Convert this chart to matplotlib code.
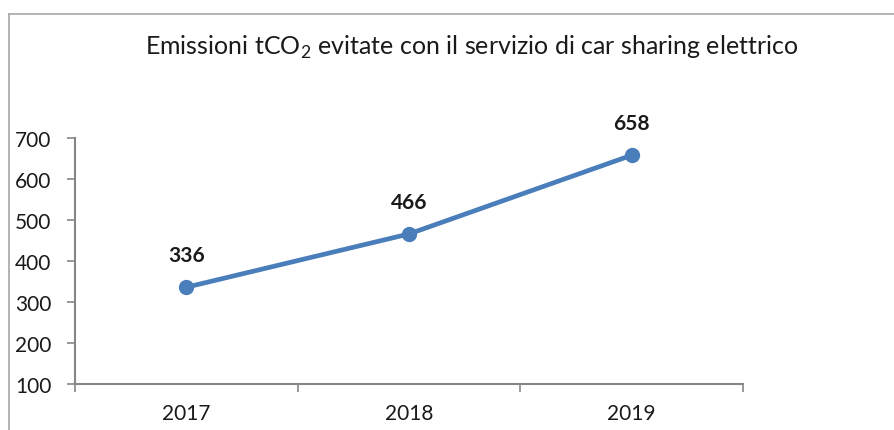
import matplotlib
matplotlib.use("Agg")
import matplotlib.pyplot as plt
from matplotlib.lines import Line2D

# dati: tonnellate di CO2 evitate per anno
anni = ["2017", "2018", "2019"]
emissioni_evitate = [336, 466, 658]
y_ticks = [100, 200, 300, 400, 500, 600, 700]

LINE_COLOR = "#4A7EBB"
AXIS_COLOR = "#868686"
TEXT_COLOR = "#1a1a1a"
FRAME_COLOR = "#a6a6a6"

plt.rcParams["font.family"] = ["Lato", "DejaVu Sans"]
plt.rcParams["mathtext.fontset"] = "custom"
plt.rcParams["mathtext.rm"] = "Lato"

fig = plt.figure(figsize=(8.94, 4.31), dpi=100)
fig.patch.set_facecolor("white")
ax = fig.add_axes([0.0839, 0.1067, 0.7472, 0.5708])

x = range(len(anni))
ax.plot(x, emissioni_evitate, color=LINE_COLOR, linewidth=3.4,
        marker="o", markersize=10, markerfacecolor=LINE_COLOR,
        markeredgecolor=LINE_COLOR, solid_capstyle="round", zorder=3)

for xi, val in zip(x, emissioni_evitate):
    ax.annotate(str(val), (xi, val), xytext=(0, 22), textcoords="offset pixels",
                ha="center", va="bottom", fontsize=15, fontweight="bold",
                color=TEXT_COLOR)

# asse categorie: tick ai confini tra le categorie
ax.set_xlim(-0.5, len(anni) - 0.5)
ax.set_xticks([i - 0.5 for i in range(len(anni) + 1)])
ax.set_xticklabels([])
ax.set_xticks(list(x), minor=True)
ax.set_xticklabels(anni, minor=True)
ax.tick_params(axis="x", which="major", direction="out", length=6,
               width=1.2, color=AXIS_COLOR)
ax.tick_params(axis="x", which="minor", length=0, pad=14,
               labelsize=15, labelcolor=TEXT_COLOR)

ax.set_ylim(100, 700)
ax.set_yticks(y_ticks)
ax.tick_params(axis="y", direction="out", length=6, width=1.2,
               color=AXIS_COLOR, pad=11, labelsize=15, labelcolor=TEXT_COLOR)

for side in ["top", "right"]:
    ax.spines[side].set_visible(False)
for side in ["left", "bottom"]:
    ax.spines[side].set_color(AXIS_COLOR)
    ax.spines[side].set_linewidth(1.5)

fig.text(0.528, 0.89, r"Emissioni tCO$_2$ evitate con il servizio di car sharing elettrico",
         ha="center", va="center", fontsize=18, color=TEXT_COLOR)

# cornice del grafico (solo lato superiore e sinistro)
top_y = 1 - 15 / 431
left_x = 8.5 / 894
fig.add_artist(Line2D([left_x, 1], [top_y, top_y], transform=fig.transFigure,
                      color=FRAME_COLOR, linewidth=1.2))
fig.add_artist(Line2D([left_x, left_x], [0, top_y], transform=fig.transFigure,
                      color=FRAME_COLOR, linewidth=1.2))

fig.savefig("out.png", dpi=100, facecolor=fig.get_facecolor())
plt.close(fig)
